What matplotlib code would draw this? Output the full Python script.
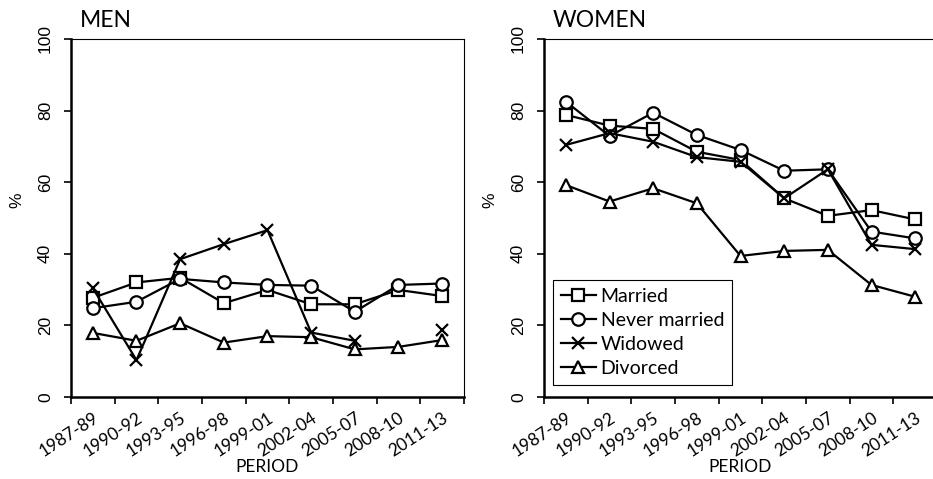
import numpy as np
import matplotlib
matplotlib.use('Agg')
import matplotlib.pyplot as plt

''' Data '''

periods = ['1987-89', '1990-92', '1993-95', '1996-98', '1999-01',
           '2002-04', '2005-07', '2008-10', '2011-13']

men_married = [27.7, 32.0, 33.3, 26.2, 29.9, 25.9, 25.9, 29.9, 28.2]
men_never = [24.8, 26.6, 33.0, 32.0, 31.3, 31.1, 23.8, 31.3, 31.7]
men_widowed = [30.4, 10.3, 38.5, 42.7, 46.6, 18.0, 15.7, np.nan, 18.7]
men_divorced = [17.9, 15.7, 20.6, 15.2, 17.0, 16.7, 13.3, 14.0, 15.9]

women_married = [78.8, 75.8, 74.9, 68.5, 66.2, 55.5, 50.6, 52.2, 49.6]
women_never = [82.5, 72.9, 79.4, 73.2, 69.0, 63.2, 63.6, 46.2, 44.3]
women_widowed = [70.4, 73.7, 71.3, 67.0, 65.7, 55.5, 63.6, 42.5, 41.3]
women_divorced = [59.2, 54.6, 58.3, 54.1, 39.4, 40.8, 41.1, 31.3, 28.0]

labels = ['Married', 'Never married', 'Widowed', 'Divorced']
markers = ['s', 'o', 'x', '^']

TEXT_FONT = 'Lato'
NUM_FONT = 'Liberation Sans'


def draw_panel(ax, series, title, legend=False):
    '''draws one panel in the excel style: category axis, boxed top/right'''
    x = np.arange(1, len(periods) + 1)
    for vals, lab, m in zip(series, labels, markers):
        ax.plot(x, vals, color='black', lw=1.6, marker=m, ms=9,
                mfc='white', mec='black', mew=1.6, label=lab)

    ax.set_xlim(0.5, len(periods) + 0.5)
    ax.set_ylim(0, 100)

    #spines
    for s in ['left', 'bottom']:
        ax.spines[s].set_linewidth(1.8)
    for s in ['top', 'right']:
        ax.spines[s].set_linewidth(0.8)

    #y axis
    ax.set_yticks([0, 20, 40, 60, 80, 100])
    ax.tick_params(axis='y', direction='out', length=5, width=1.2,
                   labelrotation=90, pad=8)
    for t in ax.get_yticklabels():
        t.set_fontfamily(NUM_FONT)
        t.set_fontsize(12.5)
        t.set_va('center')
    ax.set_ylabel('%', fontfamily=NUM_FONT, fontsize=12.5)
    ax.yaxis.set_label_coords(-0.118, 0.55)

    #x axis: ticks between categories, labels at category centres
    ax.set_xticks(np.arange(0.5, len(periods) + 1))
    ax.set_xticklabels([])
    ax.tick_params(axis='x', which='major', direction='out', length=5,
                   width=1.2)
    ax.set_xticks(x, minor=True)
    ax.set_xticklabels(periods, minor=True, rotation=33, ha='right',
                       va='top', rotation_mode='anchor',
                       fontfamily=TEXT_FONT, fontsize=12.5)
    ax.tick_params(axis='x', which='minor', length=0, pad=9)
    ax.text(0.5, -0.195, 'PERIOD', transform=ax.transAxes, ha='center',
            va='center', fontfamily=TEXT_FONT, fontsize=12.5)

    ax.text(0.022, 1.034, title, transform=ax.transAxes, ha='left',
            va='baseline', fontfamily=TEXT_FONT, fontsize=16.5)

    if legend:
        leg = ax.legend(loc='lower left', bbox_to_anchor=(0.023, 0.034),
                        borderaxespad=0, fancybox=False, framealpha=1,
                        edgecolor='black', handlelength=1.8,
                        handletextpad=0.25, labelspacing=0.36,
                        borderpad=0.4,
                        prop={'family': TEXT_FONT, 'size': 14})
        leg.get_frame().set_linewidth(0.8)


fig = plt.figure(figsize=(9.33, 4.79), dpi=100)
ax1 = fig.add_axes([0.0761, 0.1712, 0.4212, 0.7474])
ax2 = fig.add_axes([0.5831, 0.1712, 0.4212, 0.7474])

draw_panel(ax1, [men_married, men_never, men_widowed, men_divorced], 'MEN')
draw_panel(ax2, [women_married, women_never, women_widowed, women_divorced],
           'WOMEN', legend=True)

fig.savefig('out.png', dpi=100)
